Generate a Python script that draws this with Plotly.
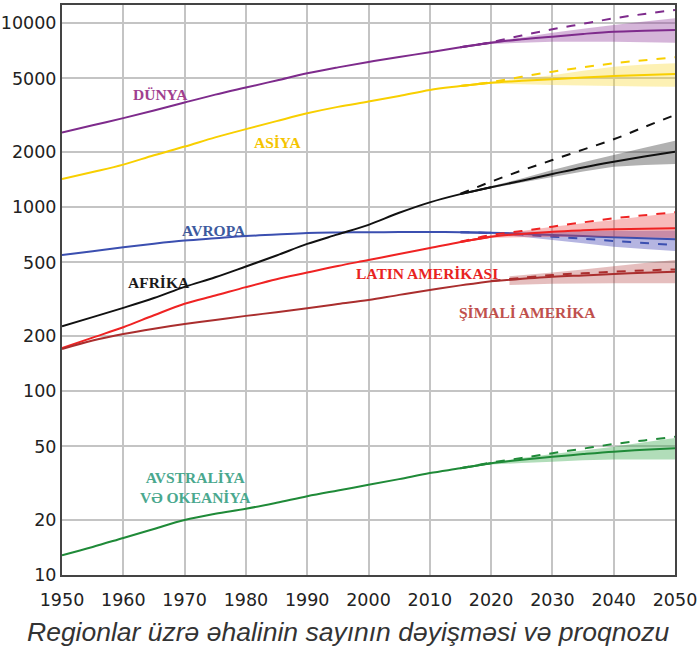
import plotly.graph_objects as go

# ---------------- data (millions) ----------------
hist_years = [1950, 1955, 1960, 1965, 1970, 1975, 1980, 1985, 1990, 1995, 2000, 2005, 2010, 2015, 2020]
proj_years = [2015, 2020, 2025, 2030, 2035, 2040, 2045, 2050]

world_hist = [2540, 2780, 3040, 3345, 3700, 4080, 4460, 4870, 5330, 5740, 6140, 6540, 6930, 7380, 7820]
world_med = [7380, 7820, 8150, 8430, 8720, 8970, 9080, 9160]
world_dash = [7390, 7860, 8550, 9240, 9900, 10600, 11200, 11770]
world_lo = [7380, 7700, 7800, 7910, 7900, 7910, 7870, 7820]
world_hi = [7380, 7950, 8350, 8840, 9300, 9750, 10200, 10600]

asia_hist = [1420, 1550, 1700, 1910, 2130, 2390, 2650, 2930, 3230, 3500, 3740, 4010, 4330, 4540, 4740]
asia_med = [4540, 4740, 4850, 4940, 5050, 5150, 5220, 5280]
asia_dash = [4550, 4770, 5100, 5440, 5740, 6040, 6280, 6510]
asia_lo = [4540, 4680, 4640, 4600, 4570, 4550, 4520, 4500]
asia_hi = [4540, 4800, 5000, 5200, 5500, 5790, 5950, 6040]

africa_hist = [225, 252, 283, 320, 368, 415, 475, 545, 630, 710, 800, 930, 1060, 1175, 1280]
africa_med = [1175, 1280, 1390, 1511, 1640, 1762, 1880, 1997]
africa_dash = [1180, 1373, 1580, 1800, 2050, 2333, 2720, 3162]
africa_lo = [1175, 1265, 1360, 1455, 1560, 1656, 1690, 1713]
africa_hi = [1175, 1295, 1430, 1590, 1750, 1917, 2100, 2291]

europe_hist = [548, 575, 605, 632, 657, 676, 695, 708, 722, 727, 729, 731, 732, 730, 725]
europe_med = [730, 725, 715, 704, 695, 685, 676, 667]
europe_dash = [730, 722, 708, 690, 672, 654, 637, 621]
europe_lo = [730, 715, 690, 662, 635, 609, 592, 577]
europe_hi = [730, 730, 733, 736, 739, 742, 744, 746]

latam_hist = [171, 195, 222, 258, 298, 330, 367, 405, 440, 478, 515, 556, 598, 645, 690]
latam_med = [645, 690, 714, 734, 747, 757, 762, 766]
latam_dash = [647, 704, 740, 782, 825, 868, 902, 936]
latam_lo = [645, 680, 685, 688, 690, 690, 685, 679]
latam_hi = [645, 705, 740, 780, 815, 850, 890, 931]

namer_hist = [169, 188, 204, 218, 231, 243, 256, 268, 282, 297, 312, 333, 354, 375, 395]
namer_line_years = [2020, 2030, 2035, 2040, 2045, 2050]
namer_med = [395, 418, 425, 432, 439, 445]
namer_dash = [396, 427, 436, 445, 452, 458]
namer_band_years = [2023, 2030, 2035, 2040, 2045, 2050]
namer_lo = [377, 383, 384, 385, 385, 385]
namer_hi = [420, 440, 458, 477, 496, 515]

oce_hist = [12.8, 14.2, 15.9, 17.8, 19.9, 21.5, 22.9, 24.7, 26.8, 28.8, 30.9, 33.2, 35.8, 38.0, 40.5]
oce_med = [38.0, 40.5, 42.3, 43.9, 45.4, 46.8, 47.9, 48.8]
oce_dash = [38.1, 40.8, 43.3, 45.9, 48.6, 51.5, 53.9, 56.4]
oce_lo = [38.0, 39.9, 40.6, 41.3, 42.0, 42.5, 42.5, 42.5]
oce_hi = [38.0, 41.0, 43.2, 45.5, 47.5, 49.8, 52.6, 55.5]

x_ticks = [1950, 1960, 1970, 1980, 1990, 2000, 2010, 2020, 2030, 2040, 2050]
y_ticks = [10, 20, 50, 100, 200, 500, 1000, 2000, 5000, 10000]

series = [
    # name, hist, line years, med, dash, band years, lo, hi, line color, band rgba
    ("Avropa", europe_hist, proj_years, europe_med, europe_dash, proj_years, europe_lo, europe_hi, "#3b4fb0", "rgba(70,70,180,0.40)"),
    ("Latın Amerikası", latam_hist, proj_years, latam_med, latam_dash, proj_years, latam_lo, latam_hi, "#ef2323", "rgba(236,60,60,0.35)"),
    ("Dünya", world_hist, proj_years, world_med, world_dash, proj_years, world_lo, world_hi, "#7e2b8c", "rgba(150,70,160,0.40)"),
    ("Asiya", asia_hist, proj_years, asia_med, asia_dash, proj_years, asia_lo, asia_hi, "#f8cf00", "rgba(248,215,40,0.35)"),
    ("Afrika", africa_hist, proj_years, africa_med, africa_dash, proj_years, africa_lo, africa_hi, "#111111", "rgba(60,60,60,0.40)"),
    ("Şimali Amerika", namer_hist, namer_line_years, namer_med, namer_dash, namer_band_years, namer_lo, namer_hi, "#aa2e2e", "rgba(180,70,70,0.35)"),
    ("Avstraliya", oce_hist, proj_years, oce_med, oce_dash, proj_years, oce_lo, oce_hi, "#1f8a38", "rgba(60,170,80,0.40)"),
]

fig = go.Figure()
for name, hist, ly, med, dash, by, lo, hi, col, band in series:
    fig.add_trace(go.Scatter(x=by + by[::-1], y=hi + lo[::-1], mode="none", fill="toself", fillcolor=band,
                             hoverinfo="skip", showlegend=False))
    fig.add_trace(go.Scatter(x=ly, y=dash, mode="lines", line=dict(color=col, width=2, dash="dash", shape="spline"),
                             showlegend=False, name=name))
    fig.add_trace(go.Scatter(x=hist_years, y=hist, mode="lines", line=dict(color=col, width=2, shape="spline"),
                             showlegend=False, name=name))
    fig.add_trace(go.Scatter(x=ly, y=med, mode="lines", line=dict(color=col, width=2, shape="spline"),
                             showlegend=False, name=name))

labels = [
    ("DÜNYA", 1966, 3.609, "#a0408f"),
    ("ASİYA", 1985.3, 3.348, "#f5c400"),
    ("AVROPA", 1974.8, 2.875, "#3d5a9e"),
    ("AFRİKA", 1965.8, 2.587, "#1a1a1a"),
    ("LATIN AMERİKASI", 2009.6, 2.641, "#e8231f"),
    ("ŞİMALİ AMERİKA", 2025.9, 2.424, "#c0504d"),
    ("AVSTRALİYA<br>VƏ OKEANİYA", 1971.7, 1.478, "#4aa88e"),
]
for txt, lx, lyv, c in labels:
    fig.add_annotation(x=lx, y=lyv, xref="x", yref="y", text="<b>" + txt + "</b>", showarrow=False,
                       font=dict(family="Liberation Serif", size=15.5, color=c), align="center")

fig.add_annotation(x=(348.5 - 62) / 612.7, y=-57 / 570, xref="paper", yref="paper",
                   text="<i>Regionlar üzrə əhalinin sayının dəyişməsi və proqnozu</i>",
                   showarrow=False, font=dict(family="Liberation Sans", size=26.5, color="#333333"),
                   xanchor="center", yanchor="middle")

fig.update_layout(
    width=698, height=651,
    margin=dict(l=62, r=23, t=5, b=76, autoexpand=False),
    paper_bgcolor="white", plot_bgcolor="white",
    font=dict(family="DejaVu Sans", size=17.5, color="#222222"),
)
fig.update_xaxes(range=[1950, 2050], tickvals=x_ticks, showgrid=True, gridcolor="#c4c4c4", gridwidth=1.5,
                 showline=True, linecolor="#444444", linewidth=2, mirror=True, ticks="", zeroline=False,
                 automargin=False, ticklabelstandoff=8)
fig.update_yaxes(type="log", range=[1, 1 + 570 / 184], tickvals=y_ticks, ticktext=[str(v) for v in y_ticks],
                 showgrid=True, gridcolor="#c4c4c4", gridwidth=1.5,
                 showline=True, linecolor="#444444", linewidth=2, mirror=True, ticks="", zeroline=False,
                 automargin=False)

fig.write_html("out.html", config={"displayModeBar": False},
               post_script="document.body.style.margin='0';document.body.style.overflow='hidden';")
